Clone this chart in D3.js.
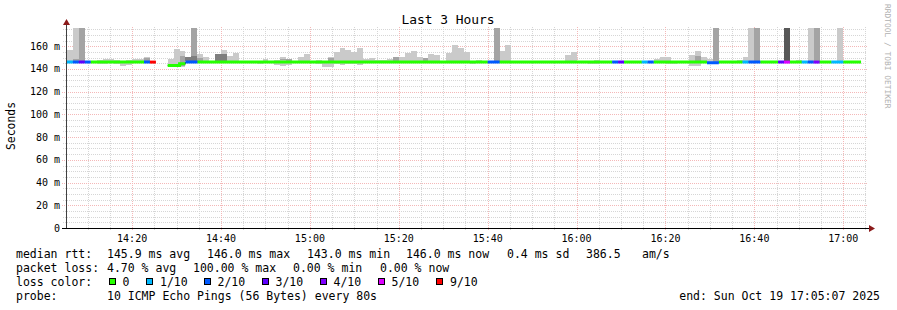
<!DOCTYPE html>
<html>
<head>
<meta charset="utf-8">
<script src="https://cdn.jsdelivr.net/npm/d3@7"></script>
<style>
body{margin:0;background:#fff}
svg text{font-family:"DejaVu Sans Mono",monospace;fill:#000}
</style>
</head>
<body>
<div id="chart"></div>
<script>
// one entry per 80 s step, starting 14:05:20
const median = [
  146.0,146.0,146.0,146.0,146.0,146.0,146.0,146.0,146.0,146.0,
  146.0,146.0,146.0,146.0,146.0,null,null,143.0,143.0,144.5,
  146.0,146.0,146.0,146.0,146.0,146.0,146.0,146.0,146.0,146.0,
  146.0,146.0,146.0,146.0,146.0,146.0,146.0,146.0,146.0,146.0,
  146.0,146.0,146.0,146.0,146.0,146.0,146.0,146.0,146.0,146.0,
  146.0,146.0,146.0,146.0,146.0,146.0,146.0,146.0,146.0,146.0,
  146.0,146.0,146.0,146.0,146.0,146.0,146.0,146.0,146.0,146.0,
  146.0,146.0,146.0,146.0,146.0,146.0,146.0,146.0,146.0,146.0,
  146.0,146.0,146.0,146.0,146.0,146.0,146.0,146.0,146.0,146.0,
  146.0,146.0,146.0,146.0,146.0,146.0,146.0,146.0,146.0,146.0,
  146.0,146.0,146.0,146.0,146.0,146.0,146.0,146.0,145.5,145.5,
  146.0,146.0,146.0,146.0,146.0,146.0,146.0,146.0,146.0,146.0,
  146.0,146.0,146.0,146.0,146.0,146.0,146.0,146.0,146.0,146.0,
  146.0,146.0,146.0,146.0
];
// lost pings out of 10
const lost = [
  1,2,3,2,0,0,0,0,0,0,
  0,0,0,2,9,10,10,0,0,0,
  2,2,0,0,0,0,0,0,0,0,
  0,0,0,0,0,0,0,0,0,0,
  0,0,0,0,0,0,0,0,0,0,
  0,0,0,0,0,0,0,0,0,0,
  0,0,0,0,0,0,0,0,0,0,
  0,2,2,0,0,0,0,0,0,0,
  0,0,0,0,0,0,0,0,0,0,
  0,0,2,3,0,0,0,1,2,0,
  0,0,0,0,0,0,0,0,2,2,
  0,0,0,0,1,2,2,0,0,0,
  3,5,0,0,1,2,4,0,0,1,
  1,0,0,0
];
// smoke bands: [step, low ms, high ms]
const smokeLight = [
  [0,145,156.6],[1,145,200],[5,144,148],[6,144,149],[7,145,149],[8,144.5,148],[9,143,147.3],
  [10,143.7,148],[11,145,149],[12,145,148.5],[13,145,150.5],[17,142,148.7],[18,141.4,157.5],
  [19,142,155.5],[22,146,153.5],[23,146,150.5],[26,146,156.6],[27,146,151.1],[28,146,154],
  [32,144,146.5],[33,145,149],[35,143.5,147.8],[36,143,150.5],[37,143.5,149],[39,146,150.8],
  [40,146,153.1],[42,144,147.8],[43,142,147.3],[44,142,150.8],[45,144,154.9],[46,143.7,158.4],
  [47,144,156.6],[48,144.3,154.9],[49,143.2,158.4],[50,146,149],[51,146,149.9],[52,146,147.8],
  [53,146,147.8],[54,146,149],[55,146,150.2],[56,146,150.8],[57,146,154.3],[58,146,155.8],
  [59,145,150.2],[60,146,149.9],[61,146,153.1],[62,146,152.5],[64,146,154.3],[65,145,161.3],
  [66,145,158.7],[67,146,154.9],[68,144,146.5],[69,145,147.8],[73,146,156],[74,146,161.3],
  [84,146,152.5],[85,146,154.9],[88,144,146.5],[89,144.5,147.8],[99,146,149],[100,146,150.2],
  [101,144,150.2],[102,144,146],[105,142.8,152.5],[106,142.5,156],[107,146,150.5],[108,146,149],
  [113,146,147.8],[114,146,150.5],[115,146,200],[123,146,147.8],[125,146,200],[130,146,200]
];
const smokeMid = [
  [1,146,148.5],[2,145,200],[13,147,150],[19,142.5,151.4],[21,147,200],[22,146,150],
  [36,147.5,148.5],[37,146.5,149],[44,147,150],[55,146,150.2],[60,146,149.9],[72,146,200],
  [106,146,151],[109,146,200],[116,146,200],[126,146,200]
];
const smokeDark = [[20,147,150.2],[21,147,151.4],[25,146,153],[26,146,153]];
const smokeDarkest = [[121,146,200]];

const lossFrom = [0,1,2,3,4,5,9];
const lossColors = ["#26ff00","#00b8ff","#0059ff","#5e00ff","#7e00ff","#dd00ff","#ff0000"];
const lossLabels = ["0","1/10","2/10","3/10","4/10","5/10","9/10"];
const yTicks = [0,20,40,60,80,100,120,140,160];

const rttLegend = ["145.9 ms avg","146.0 ms max","143.0 ms min","146.0 ms now","0.4 ms sd","386.5","am/s"];
const lossLegend = ["4.70 % avg","100.00 % max","0.00 % min","0.00 % now"];
const probeText = "10 ICMP Echo Pings (56 Bytes) every 80s";
const endText = "end: Sun Oct 19 17:05:07 2025";

const W = 897, H = 310;
const pLeft = 66, pRight = 866, pBottom = 228, pTop = 28;
const tStart = new Date(Date.UTC(2025,9,19,14,5,7));
const tEnd = new Date(Date.UTC(2025,9,19,17,5,7));
const t0 = Date.UTC(2025,9,19,14,5,20);
const stepMs = 80000;
const stepTime = k => new Date(t0 + k*stepMs);

const x = d3.scaleUtc().domain([tStart,tEnd]).range([pLeft,pRight]);
const y = d3.scaleLinear().domain([0,176]).range([pBottom,pTop]);

const svg = d3.select("#chart").append("svg")
  .attr("width",W).attr("height",H)
  .style("display","block");

svg.append("defs").append("clipPath").attr("id","plot")
  .append("rect").attr("x",pLeft).attr("y",pTop).attr("width",pRight-pLeft).attr("height",pBottom-pTop);

// grid
const minorCol = "#d6d6d6", majorCol = "#f4b8b8";
const grid = svg.append("g").attr("shape-rendering","crispEdges");
const minorY = d3.range(5,176,5).filter(v => v % 20 !== 0);
grid.selectAll(".hmin").data(minorY).enter().append("line")
  .attr("x1",63).attr("x2",pRight)
  .attr("y1",d => Math.round(y(d))+0.5).attr("y2",d => Math.round(y(d))+0.5)
  .attr("stroke",minorCol).attr("stroke-dasharray","1,1");
const minorT = x.ticks(d3.utcMinute.every(5)).filter(d => d.getUTCMinutes() % 20 !== 0);
grid.selectAll(".vmin").data(minorT).enter().append("line")
  .attr("x1",d => Math.round(x(d))+0.5).attr("x2",d => Math.round(x(d))+0.5)
  .attr("y1",pTop-1).attr("y2",pBottom+2)
  .attr("stroke",minorCol).attr("stroke-dasharray","1,1");
grid.selectAll(".hmaj").data(yTicks.slice(1)).enter().append("line")
  .attr("x1",62).attr("x2",pRight+2)
  .attr("y1",d => Math.round(y(d))+0.5).attr("y2",d => Math.round(y(d))+0.5)
  .attr("stroke",majorCol).attr("stroke-dasharray","1,1");
const majorT = x.ticks(d3.utcMinute.every(20));
grid.selectAll(".vmaj").data(majorT).enter().append("line")
  .attr("x1",d => Math.round(x(d))+0.5).attr("x2",d => Math.round(x(d))+0.5)
  .attr("y1",pTop-1).attr("y2",pBottom+3)
  .attr("stroke",majorCol).attr("stroke-dasharray","1,1");

// smoke
const plot = svg.append("g").attr("clip-path","url(#plot)");
function smoke(list,color){
  plot.append("g").attr("shape-rendering","crispEdges").selectAll("rect").data(list).enter().append("rect")
    .attr("x",d => x(stepTime(d[0])))
    .attr("width",d => x(stepTime(d[0]+1)) - x(stepTime(d[0])))
    .attr("y",d => y(d[2]))
    .attr("height",d => y(d[1]) - y(d[2]))
    .attr("fill",color);
}
smoke(smokeLight,"#cacaca");
smoke(smokeMid,"#a4a4a4");
smoke(smokeDark,"#7e7e7e");
smoke(smokeDarkest,"#585858");

// median lines
const lossClass = n => { let c = 0; lossFrom.forEach((f,i) => { if(n >= f) c = i; }); return c; };
function medianPoints(test){
  const pts = [];
  median.forEach((m,k) => {
    if(m != null && test(k)){
      pts.push([x(stepTime(k)),y(m)],[x(stepTime(k+1)),y(m)]);
    } else pts.push(null);
  });
  return pts;
}
const line = d3.line().defined(p => p != null);
plot.append("path").attr("d",line(medianPoints(() => true)))
  .attr("fill","none").attr("stroke","#202020").attr("stroke-width",1);
lossColors.forEach((c,i) => {
  plot.append("path").attr("d",line(medianPoints(k => lossClass(lost[k]) === i)))
    .attr("fill","none").attr("stroke",c).attr("stroke-width",3).attr("stroke-linecap","butt");
});

// axes
svg.append("line").attr("x1",pLeft+0.5).attr("x2",pLeft+0.5).attr("y1",pBottom).attr("y2",23)
  .attr("stroke","#404040").attr("shape-rendering","crispEdges");
svg.append("line").attr("x1",62).attr("x2",870).attr("y1",pBottom+0.5).attr("y2",pBottom+0.5)
  .attr("stroke","#000").attr("shape-rendering","crispEdges");
svg.append("path").attr("d",`M${pLeft-3},25L${pLeft+0.5},19L${pLeft+4},25Z`).attr("fill","#8b1a1a");
svg.append("path").attr("d",`M869,${pBottom-3}L875,${pBottom+0.5}L869,${pBottom+4}Z`).attr("fill","#8b1a1a");

// tick labels
svg.selectAll(".ylab").data(yTicks).enter().append("text")
  .attr("x",60).attr("y",d => y(d)+3.5).attr("text-anchor","end")
  .style("font-size","10px")
  .text(d => d === 0 ? "0" : d + " m");
svg.selectAll(".xlab").data(majorT).enter().append("text")
  .attr("x",d => x(d)).attr("y",242).attr("text-anchor","middle")
  .style("font-size","10px")
  .text(d3.utcFormat("%H:%M"));

// titles
svg.append("text").attr("x",448).attr("y",24).attr("text-anchor","middle")
  .style("font-size","12.9px").text("Last 3 Hours");
svg.append("text").attr("transform","translate(15,126) rotate(-90)").attr("text-anchor","middle")
  .style("font-size","11.4px").text("Seconds");
svg.append("text").attr("transform","translate(884.5,4) rotate(90)")
  .style("font-size","7.9px").style("fill","#b0b0b0").text("RRDTOOL / TOBI OETIKER");

// legend
const lg = svg.append("g").style("font-size","11.5px").attr("xml:space","preserve");
lg.append("text").attr("x",16).attr("y",258).text("median rtt:");
[107,207,307,406,507,586,642].forEach((px,i) => lg.append("text").attr("x",px).attr("y",258).text(rttLegend[i]));
lg.append("text").attr("x",16).attr("y",272).text("packet loss:");
[107,193,293,380].forEach((px,i) => lg.append("text").attr("x",px).attr("y",272).text(lossLegend[i]));
lg.append("text").attr("x",16).attr("y",286).text("loss color:");
const boxX = [108.5,146,203.5,261.5,319.5,377.5,436];
lossColors.forEach((c,i) => {
  lg.append("rect").attr("x",boxX[i]+0.5).attr("y",278.5).attr("width",6).attr("height",6)
    .attr("fill",c).attr("stroke","#000").attr("shape-rendering","crispEdges");
  lg.append("text").attr("x",boxX[i]+14).attr("y",286).text(lossLabels[i]);
});
lg.append("text").attr("x",16).attr("y",300).text("probe:");
lg.append("text").attr("x",107).attr("y",300).text(probeText);
lg.append("text").attr("x",880).attr("y",300).attr("text-anchor","end").text(endText);
</script>
</body>
</html>
